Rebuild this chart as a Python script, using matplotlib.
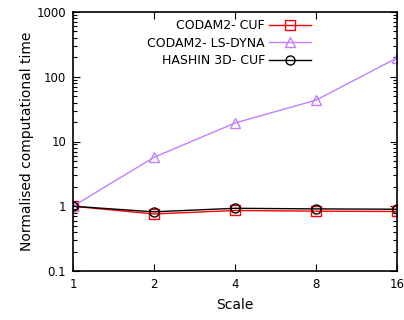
import numpy as np
import matplotlib
matplotlib.use('Agg')
import matplotlib.pyplot as plt
from matplotlib.ticker import LogLocator, NullFormatter, FixedLocator

scale = [1, 2, 4, 8, 16]
codam_cuf = [1.0, 0.76, 0.86, 0.84, 0.83]
codam_lsdyna = [1.0, 5.7, 19.3, 43.5, 195.0]
hashin_cuf = [1.0, 0.82, 0.93, 0.91, 0.90]
xtick_labels = ['1', '2', '4', '8', '16']

plt.rcParams['font.family'] = 'DejaVu Sans'

fig = plt.figure(figsize=(4.04, 3.2), dpi=100)
ax = fig.add_axes([73 / 404, 1 - 271 / 320, 324 / 404, 259 / 320])

ax.plot(scale, codam_cuf, color='#ff0000', lw=1.0, marker='s', ms=6.5,
        mfc='none', mec='#ff0000', mew=1.0, label='CODAM2- CUF')
ax.plot(scale, codam_lsdyna, color='#c080ff', lw=1.0, marker='^', ms=7,
        mfc='none', mec='#c080ff', mew=1.0, label='CODAM2- LS-DYNA')
ax.plot(scale, hashin_cuf, color='black', lw=1.0, marker='o', ms=6.5,
        mfc='none', mec='black', mew=1.0, label='HASHIN 3D- CUF')

ax.set_xscale('log', base=2)
ax.set_yscale('log')
ax.set_xlim(1, 16)
ax.set_ylim(0.1, 1000)
ax.xaxis.set_major_locator(FixedLocator(scale))
ax.set_xticklabels(xtick_labels)
ax.xaxis.set_minor_locator(FixedLocator([]))
ax.set_yticks([0.1, 1, 10, 100, 1000])
ax.set_yticklabels(['0.1', '1', '10', '100', '1000'])
ax.yaxis.set_minor_locator(LogLocator(base=10, subs=np.arange(2, 10)))
ax.yaxis.set_minor_formatter(NullFormatter())

ax.tick_params(which='both', direction='in', top=True, right=True, labelsize=8.5)
ax.tick_params(which='major', length=5, width=0.8, pad=5)
ax.tick_params(which='minor', length=3, width=0.8)
for s in ax.spines.values():
    s.set_linewidth(1.2)

ax.set_xlabel('Scale', fontsize=10, labelpad=5)
ax.set_ylabel('Normalised computational time', fontsize=10, labelpad=2)

leg = ax.legend(loc='upper right', markerfirst=False, frameon=False,
                fontsize=9, handlelength=3.4, borderaxespad=0, borderpad=0,
                labelspacing=0.38, handletextpad=0.3,
                bbox_to_anchor=(311 / 404, 1 - 19 / 320),
                bbox_transform=fig.transFigure)
for t in leg.get_texts():
    t.set_ha('right')
leg._legend_box.align = 'right'

fig.savefig('out.png', dpi=100)
